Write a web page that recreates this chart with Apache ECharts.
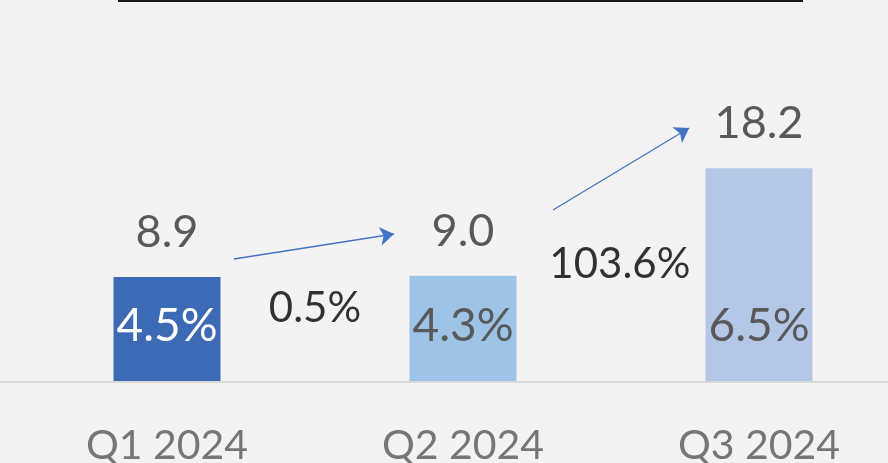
<!DOCTYPE html>
<html><head><meta charset="utf-8">
<script src="https://cdn.jsdelivr.net/npm/echarts@6/dist/echarts.min.js"></script>
<style>html,body{margin:0;padding:0;background:#f3f3f3;}#c{width:888px;height:463px;}</style>
</head><body><div id="c"></div>
<script>
const categories = ['Q1 2024', 'Q2 2024', 'Q3 2024'];
const values = [8.9, 9.0, 18.2];
const shares = ['4.5%', '4.3%', '6.5%'];
const barColors = ['#3d6ab4', '#9dc3e6', '#b4c7e7'];
const shareColors = ['#ffffff', '#595959', '#595959'];
// growth annotations: [x position on category index scale, y value, label]
const growthLabels = [[0.5, 6.2, '0.5%'], [1.53, 10.0, '103.6%']];
// arrows: [[x0, y0], [x1, y1]] on category-index / value scales
const arrows = [
  [[0.226, 10.44], [0.767, 12.58]],
  [[1.304, 14.63], [1.764, 21.65]]
];

const FONT = 'Lato';
const chart = echarts.init(document.getElementById('c'), null, {renderer: 'canvas'});
chart.setOption({
  backgroundColor: '#f3f3f3',
  animation: false,
  grid: {left: 19, width: 888, top: 30.45, bottom: 82, containLabel: false, outerBoundsMode: 'none'},
  xAxis: [{
    type: 'category', data: categories, boundaryGap: true,
    axisLine: {show: false}, axisTick: {show: false},
    axisLabel: {color: '#767676', fontSize: 41, fontFamily: FONT, margin: 44}
  }, {
    type: 'value', min: -0.5, max: 2.5, show: false
  }],
  yAxis: {type: 'value', min: 0, max: 30, show: false},
  series: [{
    type: 'bar', barWidth: 107, z: 2,
    data: values.map((v, i) => ({value: v, itemStyle: {color: barColors[i]}})),
    label: {show: true, position: 'top', distance: 22, color: '#595959', fontSize: 45, fontFamily: FONT,
      formatter: p => p.value.toFixed(1)}
  }, {
    type: 'bar', barWidth: 107, barGap: '-100%', z: 3,
    data: values.map((v, i) => ({value: v, itemStyle: {color: 'rgba(0,0,0,0)'},
      label: {color: shareColors[i]}})),
    label: {show: true, position: 'insideBottom', distance: 32, fontSize: 46, fontFamily: FONT,
      formatter: p => shares[p.dataIndex]}
  }, {
    type: 'scatter', xAxisIndex: 1, symbolSize: 0, z: 4,
    data: growthLabels.map(g => [g[0], g[1], g[2]]),
    label: {show: true, position: 'inside', color: '#000000', fontSize: 42, fontFamily: FONT,
      formatter: p => p.data[2]},
    emphasis: {disabled: true}
  }, {
    type: 'lines', coordinateSystem: 'cartesian2d', xAxisIndex: 1, z: 4,
    symbol: ['none', 'arrow'], symbolSize: [0, 14],
    lineStyle: {color: '#4472c4', width: 1.3, opacity: 1, curveness: 0},
    data: arrows.map(a => ({coords: a}))
  }],
  graphic: [
    {type: 'line', shape: {x1: 118, y1: 1, x2: 803, y2: 1}, style: {stroke: '#1a1a1a', lineWidth: 2}},
    {type: 'line', shape: {x1: 0, y1: 382, x2: 888, y2: 382}, style: {stroke: '#d9d9d9', lineWidth: 2}, z: 1}
  ]
});
</script></body></html>
